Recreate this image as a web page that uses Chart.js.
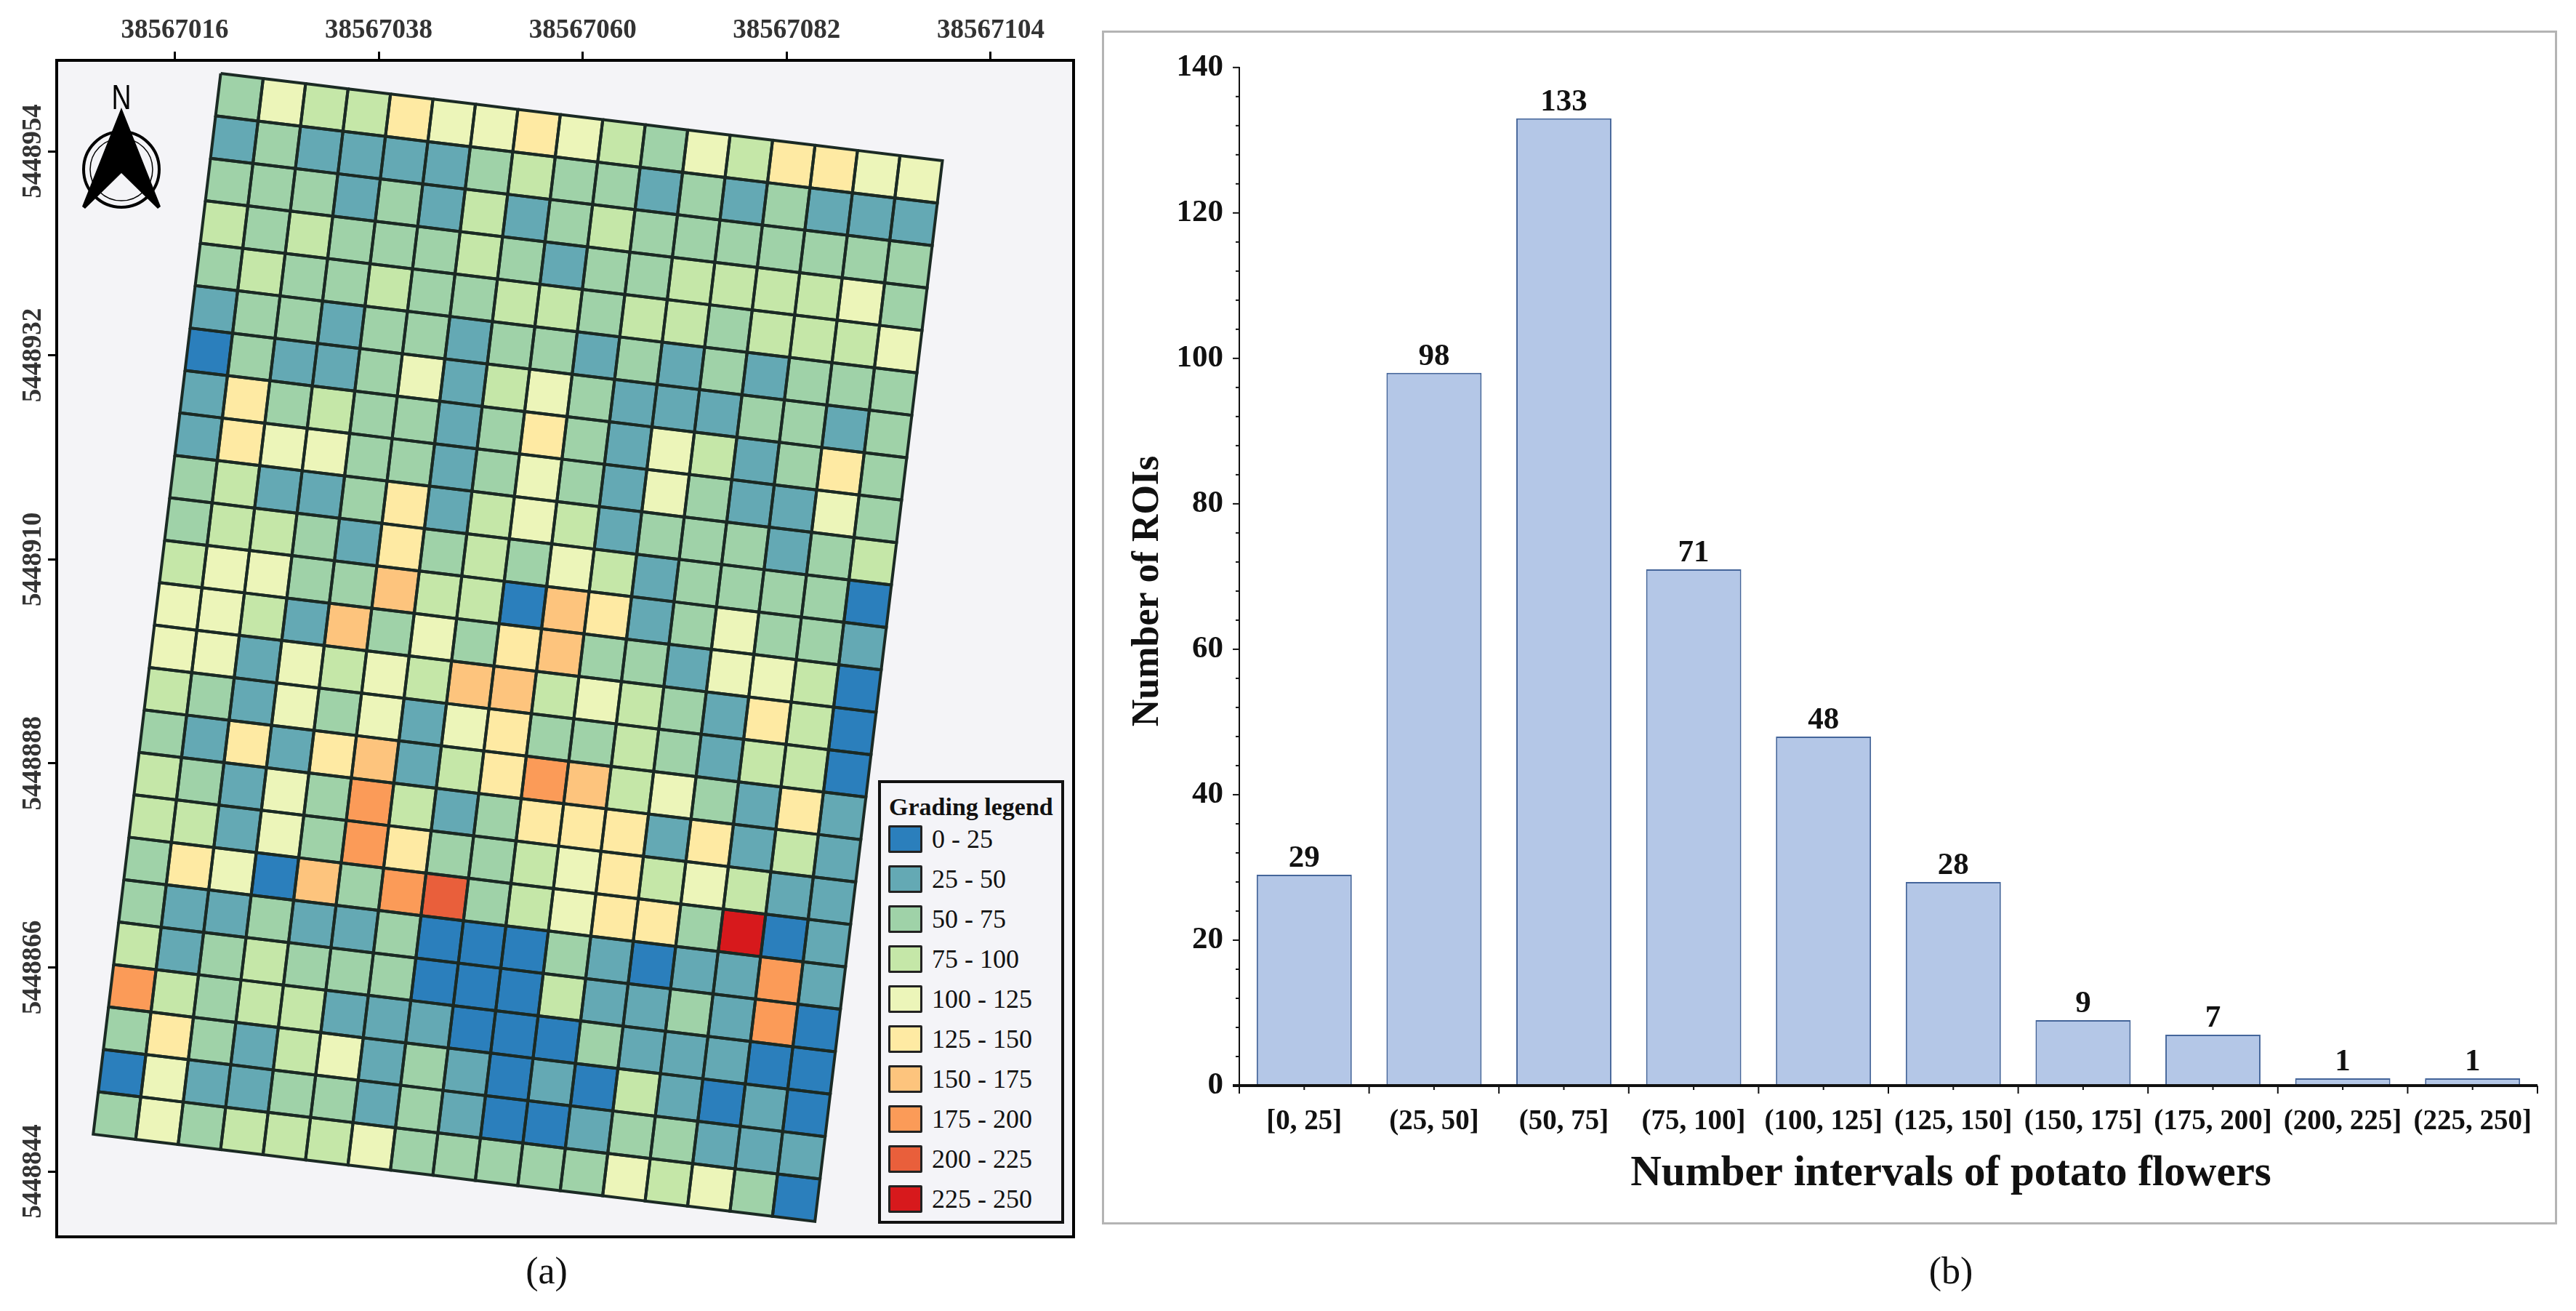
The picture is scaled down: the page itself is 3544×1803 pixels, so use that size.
<!DOCTYPE html>
<html>
<head>
<meta charset="utf-8">
<title>Potato flower grading</title>
<script src="https://cdn.jsdelivr.net/npm/chart.js@4/dist/chart.umd.js"></script>
<style>
    html, body { margin: 0; padding: 0; background: #fff; }
    body { position: relative; width: 3544px; height: 1803px; overflow: hidden; font-family: 'Liberation Serif', serif; color: #111; }
    canvas { position: absolute; display: block; }
    #map-canvas { left: 0; top: 0; }
    #panel-b { position: absolute; left: 1516px; top: 42px; width: 1996px; height: 1636px; border: 3px solid #b4b4b4; box-sizing: content-box; }
    #bar-canvas { left: 0; top: 0; }
    #north { position: absolute; left: 100px; top: 105px; }
    .caption { position: absolute; top: 1718px; font-size: 52px; line-height: 60px; transform: translateX(-50%); }
    #legend { position: absolute; left: 1208px; top: 1073px; width: 256px; height: 610px; box-sizing: border-box; border: 4px solid #111; background: #f4f4f8; }
    #legend h4 { margin: 0; position: absolute; left: 11px; top: 13px; font-size: 34px; line-height: 40px; font-weight: bold; white-space: nowrap; }
    .legend-item { position: absolute; left: 10px; height: 38px; font-size: 36px; line-height: 38px; white-space: nowrap; }
    .legend-item i { position: absolute; left: 0; top: 0; width: 47px; height: 38px; box-sizing: border-box; border: 3px solid #222; border-radius: 2px; }
    .legend-item span { position: absolute; left: 60px; top: 0; }
</style>
</head>
<body>
<canvas id="map-canvas" width="1500" height="1715"></canvas>
<svg id="north" width="140" height="190" viewBox="100 105 140 190">
    <text x="167" y="150" text-anchor="middle" font-family="Liberation Sans" font-size="48" transform="translate(167 0) scale(0.78 1) translate(-167 0)">N</text>
    <circle cx="167" cy="233" r="52" fill="none" stroke="#000" stroke-width="4"></circle>
    <circle cx="167" cy="233" r="43" fill="none" stroke="#000" stroke-width="1.5"></circle>
    <polygon points="167,148 221,284 217,287 167,238 117,287 113,284" fill="#000"></polygon>
</svg>
<div id="legend"><h4>Grading legend</h4></div>
<div class="caption" style="left:752px">(a)</div>
<div id="panel-b"><canvas id="bar-canvas" width="1996" height="1636"></canvas></div>
<div class="caption" style="left:2684px">(b)</div>

<script>
(function () {
    'use strict';

    /* =====================================================
       DATA
       ===================================================== */
    var intervals = ['[0, 25]', '(25, 50]', '(50, 75]', '(75, 100]', '(100, 125]', '(125, 150]', '(150, 175]', '(175, 200]', '(200, 225]', '(225, 250]'];
    var roiCounts = [29, 98, 133, 71, 48, 28, 9, 7, 1, 1];

    var gradeLabels = ['0 - 25', '25 - 50', '50 - 75', '75 - 100', '100 - 125', '125 - 150', '150 - 175', '175 - 200', '200 - 225', '225 - 250'];
    var gradeColors = ['#2b7fbc', '#64a9b4', '#9fd2a8', '#c5e7a8', '#ecf5b9', '#feeaa3', '#fdc47d', '#fb9b58', '#e95f3b', '#d7191c'];

    var eastTicks = [38567016, 38567038, 38567060, 38567082, 38567104];
    var northTicks = [5448954, 5448932, 5448910, 5448888, 5448866, 5448844];

    // grade index of every plot, north row first, west column first
    var gradeGrid = [
        [2, 4, 3, 3, 5, 4, 4, 5, 4, 3, 2, 4, 3, 5, 5, 4, 4],
        [1, 2, 1, 1, 1, 1, 2, 3, 2, 2, 1, 2, 1, 2, 1, 1, 1],
        [2, 2, 2, 1, 2, 1, 3, 1, 2, 3, 2, 2, 2, 2, 2, 2, 2],
        [3, 2, 3, 2, 2, 2, 3, 2, 1, 2, 2, 3, 3, 3, 3, 4, 2],
        [2, 3, 2, 2, 3, 2, 2, 3, 3, 2, 3, 3, 2, 3, 3, 3, 4],
        [1, 2, 2, 1, 2, 2, 1, 2, 2, 1, 2, 1, 2, 1, 2, 2, 2],
        [0, 2, 1, 1, 2, 4, 1, 3, 4, 2, 1, 1, 1, 2, 2, 1, 2],
        [1, 5, 2, 3, 2, 2, 1, 2, 5, 2, 1, 4, 3, 1, 2, 5, 2],
        [1, 5, 4, 4, 2, 2, 1, 2, 4, 2, 1, 4, 2, 1, 1, 4, 2],
        [2, 3, 1, 1, 2, 5, 1, 3, 4, 3, 1, 2, 2, 2, 1, 2, 3],
        [2, 3, 3, 2, 1, 5, 2, 3, 2, 4, 3, 1, 2, 2, 2, 2, 0],
        [3, 4, 4, 2, 2, 6, 3, 3, 0, 6, 5, 1, 2, 4, 2, 2, 1],
        [4, 4, 3, 1, 6, 2, 4, 2, 5, 6, 2, 2, 1, 4, 4, 3, 0],
        [4, 4, 1, 4, 3, 4, 3, 6, 6, 3, 4, 3, 2, 1, 5, 3, 0],
        [3, 2, 1, 4, 2, 4, 1, 4, 5, 2, 2, 3, 2, 1, 3, 3, 0],
        [2, 1, 5, 1, 5, 6, 1, 3, 5, 7, 6, 3, 4, 2, 1, 5, 1],
        [3, 2, 1, 4, 2, 7, 3, 1, 2, 5, 5, 5, 1, 5, 1, 3, 1],
        [3, 3, 1, 4, 2, 7, 5, 2, 2, 3, 4, 5, 3, 4, 3, 1, 1],
        [2, 5, 4, 0, 6, 2, 7, 8, 2, 3, 4, 5, 5, 2, 9, 0, 1],
        [2, 1, 1, 2, 1, 1, 2, 0, 0, 0, 2, 1, 0, 1, 1, 7, 1],
        [3, 1, 2, 3, 2, 2, 2, 0, 0, 0, 3, 1, 1, 2, 1, 7, 0],
        [7, 3, 2, 3, 3, 1, 1, 1, 0, 0, 0, 2, 1, 1, 1, 0, 0],
        [2, 5, 2, 1, 3, 4, 1, 2, 1, 0, 1, 0, 3, 1, 0, 1, 0],
        [0, 4, 1, 1, 2, 2, 1, 2, 1, 0, 0, 1, 2, 2, 1, 1, 1],
        [2, 4, 2, 3, 3, 3, 4, 2, 2, 2, 2, 2, 4, 3, 4, 2, 0]
    ];

    // field geometry in map units
    var fieldOrigin = { east: 38567020.95, north: 5448962.39 };
    var columnStep = { east: 4.579, north: -0.5535 };
    var rowStep = { east: -0.55, north: -4.575 };

    /* =====================================================
       SHARED STYLE
       ===================================================== */
    var serif = 'Liberation Serif';
    var ink = '#111111';

    /* =====================================================
       MAP PANEL
       ===================================================== */
    function plotCorner(row, col) {
        return {
            x: fieldOrigin.east + col * columnStep.east + row * rowStep.east,
            y: fieldOrigin.north + col * columnStep.north + row * rowStep.north
        };
    }

    function makeCellDatasets() {
        var sets = [];
        gradeGrid.forEach(function (cells, r) {
            cells.forEach(function (grade, c) {
                sets.push({
                    label: gradeLabels[grade],
                    data: [plotCorner(r, c), plotCorner(r, c + 1), plotCorner(r + 1, c + 1), plotCorner(r + 1, c), plotCorner(r, c)],
                    showLine: true,
                    fill: 'shape',
                    backgroundColor: gradeColors[grade],
                    borderColor: '#1b2a24',
                    borderWidth: 4,
                    pointRadius: 0,
                    tension: 0
                });
            });
        });
        return sets;
    }

    var mapFrame = {
        id: 'mapFrame',
        beforeDraw: function (chart) {
            var a = chart.chartArea;
            chart.ctx.fillStyle = '#f4f4f7';
            chart.ctx.fillRect(a.left, a.top, a.width, a.height);
        },
        afterDraw: function (chart) {
            var a = chart.chartArea;
            chart.ctx.strokeStyle = '#000';
            chart.ctx.lineWidth = 4;
            chart.ctx.strokeRect(a.left, a.top, a.width, a.height);
        }
    };

    function initMap() {
        new Chart(document.getElementById('map-canvas'), {
            type: 'scatter',
            data: { datasets: makeCellDatasets() },
            plugins: [mapFrame],
            options: {
                responsive: false,
                animation: false,
                events: [],
                layout: { padding: { right: 23, bottom: 14 } },
                plugins: {
                    legend: { display: false },
                    tooltip: { enabled: false },
                    filler: { drawTime: 'beforeDatasetsDraw' }
                },
                scales: {
                    x: {
                        type: 'linear',
                        position: 'top',
                        min: 38567003.26,
                        max: 38567112.94,
                        afterFit: function (s) { s.height = 83; },
                        afterBuildTicks: function (s) {
                            s.ticks = eastTicks.map(function (v) { return { value: v }; });
                        },
                        grid: { drawOnChartArea: false, tickLength: 12, tickWidth: 3, tickColor: '#000' },
                        border: { color: '#000', width: 4 },
                        ticks: {
                            autoSkip: false,
                            maxRotation: 0,
                            padding: 6,
                            color: '#333',
                            font: { family: serif, size: 37, weight: 'bold' },
                            callback: function (v) { return String(v); }
                        }
                    },
                    y: {
                        type: 'linear',
                        min: 5448836.95,
                        max: 5448963.8,
                        afterFit: function (s) { s.width = 78; },
                        afterBuildTicks: function (s) {
                            s.ticks = northTicks.map(function (v) { return { value: v }; });
                        },
                        grid: { drawOnChartArea: false, tickLength: 12, tickWidth: 3, tickColor: '#000' },
                        border: { color: '#000', width: 4 },
                        ticks: {
                            autoSkip: false,
                            minRotation: 90,
                            maxRotation: 90,
                            crossAlign: 'center',
                            padding: -45,
                            color: '#333',
                            font: { family: serif, size: 37, weight: 'bold' },
                            callback: function (v) { return String(v); }
                        }
                    }
                }
            }
        });
    }

    function initLegend() {
        var box = document.getElementById('legend');
        gradeLabels.forEach(function (label, i) {
            var item = document.createElement('div');
            item.className = 'legend-item';
            item.style.top = (58 + i * 55) + 'px';
            var swatch = document.createElement('i');
            swatch.style.background = gradeColors[i];
            var text = document.createElement('span');
            text.textContent = label;
            item.appendChild(swatch);
            item.appendChild(text);
            box.appendChild(item);
        });
    }

    /* =====================================================
       BAR PANEL
       ===================================================== */
    var barExtras = {
        id: 'barExtras',
        afterDraw: function (chart) {
            var ctx = chart.ctx;
            var x = chart.scales.x;
            var y = chart.scales.y;
            var base = y.getPixelForValue(0);
            var half = (x.getPixelForValue(1) - x.getPixelForValue(0)) / 2;

            ctx.save();
            ctx.strokeStyle = '#111';

            // y ticks, long on the labelled values
            ctx.lineWidth = 2;
            y.ticks.forEach(function (t) {
                var py = y.getPixelForValue(t.value);
                var len = t.value % 20 === 0 ? 9 : 5;
                ctx.beginPath();
                ctx.moveTo(x.left - len, py);
                ctx.lineTo(x.left, py);
                ctx.stroke();
            });

            // x ticks: long between categories, short on them
            intervals.forEach(function (label, i) {
                var cx = x.getPixelForValue(i);
                ctx.beginPath();
                ctx.moveTo(cx - half, base);
                ctx.lineTo(cx - half, base + 11);
                ctx.moveTo(cx, base);
                ctx.lineTo(cx, base + 6);
                if (i === intervals.length - 1) {
                    ctx.moveTo(cx + half, base);
                    ctx.lineTo(cx + half, base + 11);
                }
                ctx.stroke();
            });

            // baseline runs slightly past the y axis
            ctx.lineWidth = 4;
            ctx.beginPath();
            ctx.moveTo(x.left - 9, base);
            ctx.lineTo(x.right, base);
            ctx.stroke();

            // value labels
            ctx.fillStyle = ink;
            ctx.font = 'bold 43px ' + serif;
            ctx.textAlign = 'center';
            ctx.textBaseline = 'alphabetic';
            chart.getDatasetMeta(0).data.forEach(function (bar, i) {
                ctx.fillText(String(roiCounts[i]), bar.x, bar.y - 11);
            });

            // axis titles
            ctx.font = 'bold 59px ' + serif;
            ctx.fillText('Number intervals of potato flowers', 1165, 1585);
            ctx.translate(74, 768);
            ctx.rotate(-Math.PI / 2);
            ctx.font = 'bold 52px ' + serif;
            ctx.fillText('Number of ROIs', 0, 0);
            ctx.restore();
        }
    };

    function initBars() {
        new Chart(document.getElementById('bar-canvas'), {
            type: 'bar',
            data: {
                labels: intervals,
                datasets: [{
                    label: 'Number of ROIs',
                    data: roiCounts,
                    backgroundColor: '#b4c7e7',
                    borderColor: '#44659a',
                    borderWidth: 2,
                    barPercentage: 0.733,
                    categoryPercentage: 1
                }]
            },
            plugins: [barExtras],
            options: {
                responsive: false,
                animation: false,
                events: [],
                layout: { padding: { top: 45, right: 24 } },
                plugins: {
                    legend: { display: false },
                    tooltip: { enabled: false }
                },
                scales: {
                    x: {
                        afterFit: function (s) { s.height = 188; },
                        grid: { display: false, drawTicks: false },
                        border: { display: false },
                        ticks: {
                            autoSkip: false,
                            maxRotation: 0,
                            padding: 27,
                            color: ink,
                            font: { family: serif, size: 39, weight: 'bold' }
                        }
                    },
                    y: {
                        min: 0,
                        max: 140,
                        afterFit: function (s) { s.width = 186; },
                        grid: { display: false, drawTicks: false },
                        border: { display: true, color: '#111', width: 2 },
                        ticks: {
                            autoSkip: false,
                            stepSize: 4,
                            padding: 22,
                            color: ink,
                            font: { family: serif, size: 43, weight: 'bold' },
                            callback: function (v) { return v % 20 === 0 ? String(v) : ''; }
                        }
                    }
                }
            }
        });
    }

    /* =====================================================
       DOM READY
       ===================================================== */
    initMap();
    initLegend();
    initBars();
})();
</script>
</body>
</html>
